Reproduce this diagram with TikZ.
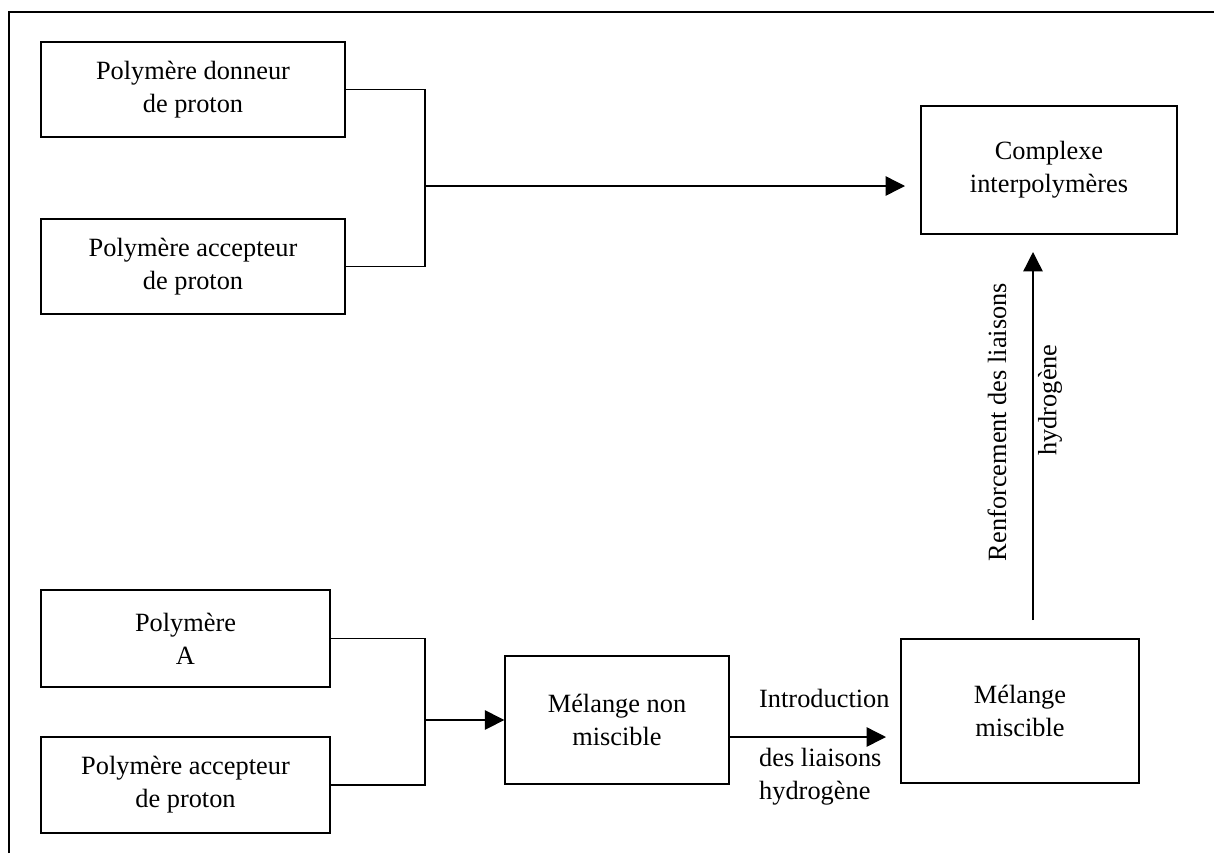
\documentclass[tikz,border=0pt]{standalone}
\usepackage{fontspec}
\setmainfont{Liberation Serif}
\usetikzlibrary{arrows.meta}
\tikzset{
	boite/.style={draw, line width=0.8pt, align=center, inner sep=0pt},
	fleche/.style={line width=0.8pt, -{Triangle[length=11pt,width=11pt]}},
	trait/.style={line width=0.8pt}
}

\begin{document}
\begin{tikzpicture}[x=0.02cm, y=-0.02cm, font=\fontsize{15}{18.7}\selectfont]
				\useasboundingbox (0,0) rectangle (1214,853);
				\draw[trait] (9,853) -- (9,12) -- (1214,12);
				
				\node[boite, minimum width=6.08cm, minimum height=1.9cm] (donneur) at (193,89.5) {Polymère donneur\\de proton};
				\node[boite, minimum width=6.08cm, minimum height=1.9cm] (accepteur) at (193,266.5) {Polymère accepteur\\de proton};
				\node[boite, minimum width=5.12cm, minimum height=2.56cm] (complexe) at (1049,170) {Complexe\\interpolymères};
				
				\node[boite, minimum width=5.78cm, minimum height=1.94cm] (polyA) at (185.5,638.5) {Polymère\\A};
				\node[boite, minimum width=5.78cm, minimum height=1.92cm] (polyB) at (185.5,785) {Polymère accepteur\\de proton};
				\node[boite, minimum width=4.48cm, minimum height=2.56cm] (nonmisc) at (617,720) {Mélange non\\miscible};
				\node[boite, minimum width=4.76cm, minimum height=2.88cm] (misc) at (1020,711) {Mélange\\miscible};
				
				\coordinate (j1) at (425,186);
				\coordinate (f1) at (905,186);
				\draw[trait] (donneur.east) -| (j1) |- (accepteur.east);
				\draw[fleche] (j1) -- (f1);
				
				\coordinate (j2) at (425,720);
				\draw[trait] (polyA.east) -| (j2) |- (polyB.east);
				\draw[fleche] (j2) -- (nonmisc.west);
				
				\coordinate (d2) at (729,737);
				\coordinate (f2) at (886,737);
				\draw[fleche] (d2) -- (f2);
				\node[anchor=west] (intro) at (753,698) {Introduction};
				\node[anchor=west, align=left] (liaisons) at (753,777) {des liaisons\\hydrogène};
				
				\coordinate (d3) at (1033,620);
				\coordinate (f3) at (1033,252);
				\draw[fleche] (d3) -- (f3);
				\node[rotate=90] (renfort) at (997,422) {Renforcement des liaisons};
				\node[rotate=90] (hydro) at (1050,400) {hydrogène};
			\end{tikzpicture}
\end{document}
